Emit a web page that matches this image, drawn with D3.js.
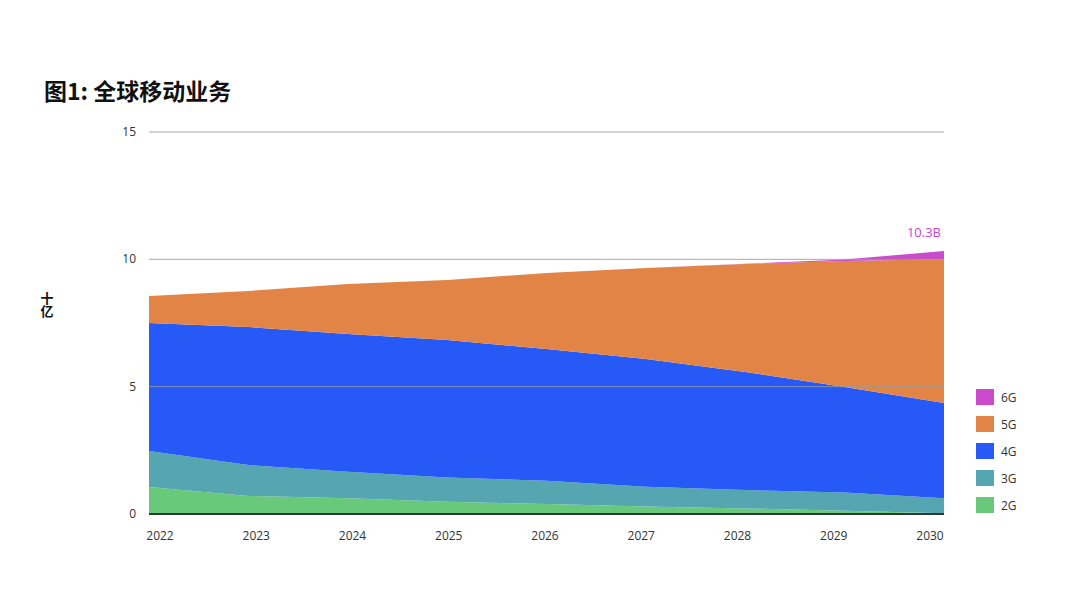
<!DOCTYPE html>
<html><head><meta charset="utf-8">
<script src="https://cdn.jsdelivr.net/npm/d3@7/dist/d3.min.js"></script>
<style>
body{margin:0;background:#fff;}
svg{display:block;font-family:"Open Sans","Noto Sans CJK SC",sans-serif;}
</style></head>
<body><svg id="c" width="1080" height="604"></svg>
<script>
const years = [2022,2023,2024,2025,2026,2027,2028,2029,2030];
const series = ["2G","3G","4G","5G","6G"];
const v2G = [1.06,0.71,0.62,0.48,0.39,0.29,0.22,0.13,0.03];
const v3G = [1.41,1.21,1.04,0.95,0.92,0.78,0.72,0.71,0.59];
const v4G = [5.03,5.42,5.41,5.40,5.17,5.02,4.64,4.15,3.74];
const v5G = [1.06,1.42,1.96,2.36,2.98,3.57,4.24,4.94,5.64];
const v6G = [0,0,0,0,0,0,0.01,0.06,0.33];
const yTicks = [0,5,10,15];
const colors = {"2G":"#68c97b","3G":"#55a6b1","4G":"#2659f5","5G":"#e38447","6G":"#cb4bcd"};
const legendOrder = ["6G","5G","4G","3G","2G"];
const title = "图1: 全球移动业务";
const yLabel = "十亿";
const endLabel = "10.3B";

const vals = {"2G":v2G,"3G":v3G,"4G":v4G,"5G":v5G,"6G":v6G};
const rows = years.map((y,i)=>{const r={year:y}; series.forEach(s=>r[s]=vals[s][i]); return r;});

const svg = d3.select("#c");
const x = d3.scaleLinear().domain([2022,2030]).range([149,944]);
const xLab = d3.scalePoint().domain(years).range([160,930]);
const y = d3.scaleLinear().domain([0,15]).range([514,132]);

const stack = d3.stack().keys(series)(rows);
const area = d3.area().x(d=>x(d.data.year)).y0(d=>y(d[0])).y1(d=>y(d[1]));

svg.append("g").selectAll("path").data(stack).join("path")
  .attr("d",area).attr("fill",d=>colors[d.key]);

// gridlines
svg.append("g").selectAll("line").data(yTicks.filter(t=>t>0)).join("line")
  .attr("x1",149).attr("x2",944).attr("y1",d=>y(d)).attr("y2",d=>y(d))
  .attr("stroke","#9a9a9a").attr("stroke-width",1).attr("opacity",0.85);
// baseline
svg.append("line").attr("x1",149).attr("x2",944).attr("y1",y(0)).attr("y2",y(0))
  .attr("stroke","#2b3a30").attr("stroke-width",2);

// y tick labels
svg.append("g").selectAll("text").data(yTicks).join("text")
  .attr("x",136).attr("y",d=>y(d)+4).attr("text-anchor","end")
  .attr("font-size",12).attr("fill","#333").text(d=>d);

// x tick labels
svg.append("g").selectAll("text").data(years).join("text")
  .attr("x",d=>xLab(d)).attr("y",540).attr("text-anchor","middle")
  .attr("font-size",12).attr("fill","#333").text(d=>d);

// title
svg.append("text").attr("x",44).attr("y",100).attr("font-size",23).attr("font-weight","bold")
  .attr("font-family","'Noto Sans CJK SC',sans-serif").attr("fill","#111").text(title);

// y label, vertical upright CJK
svg.append("text").attr("x",47).attr("y",292)
  .style("writing-mode","vertical-rl").style("text-orientation","upright")
  .attr("font-size",13).attr("font-weight","bold")
  .attr("font-family","'Noto Sans CJK SC',sans-serif").attr("fill","#111").text(yLabel);

// end label
const last = years.length-1;
const totalLast = series.reduce((a,s)=>a+vals[s][last],0);
svg.append("text").attr("x",x(2030)-3).attr("y",y(totalLast)-14).attr("text-anchor","end")
  .attr("font-size",13).attr("fill","#cc44cc").text(endLabel);

// legend
const lg = svg.append("g").selectAll("g").data(legendOrder).join("g")
  .attr("transform",(d,i)=>`translate(976,${389+i*27})`);
lg.append("rect").attr("width",18).attr("height",16).attr("fill",d=>colors[d]);
lg.append("text").attr("x",25).attr("y",12.5).attr("font-size",12).attr("fill","#333").text(d=>d);
</script></body></html>
